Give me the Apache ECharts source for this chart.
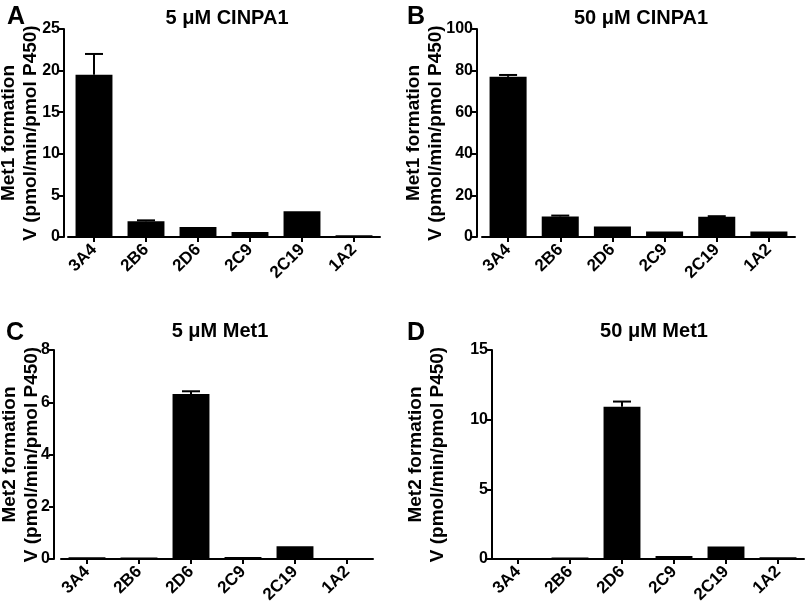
<!DOCTYPE html>
<html>
<head>
<meta charset="utf-8">
<script src="https://cdn.jsdelivr.net/npm/echarts@6/dist/echarts.min.js"></script>
<style>html,body{margin:0;padding:0;background:#fff}#c{width:810px;height:605px}</style>
</head>
<body>
<div id="c"></div>
<script>
const categories = ['3A4', '2B6', '2D6', '2C9', '2C19', '1A2'];

// Panel A: 5 µM CINPA1 (Met1 formation)
const valuesA = [19.5, 1.9, 1.2, 0.6, 3.1, 0.2];
const errorsA = [2.5, 0.1, 0, 0, 0, 0];
// Panel B: 50 µM CINPA1 (Met1 formation)
const valuesB = [77.0, 9.9, 5.0, 2.7, 9.7, 2.7];
const errorsB = [0.9, 0.4, 0, 0, 0.3, 0];
// Panel C: 5 µM Met1 (Met2 formation)
const valuesC = [0.07, 0.06, 6.32, 0.08, 0.49, 0.03];
const errorsC = [0, 0, 0.1, 0, 0, 0];
// Panel D: 50 µM Met1 (Met2 formation)
const valuesD = [0.0, 0.1, 10.93, 0.22, 0.9, 0.12];
const errorsD = [0, 0, 0.37, 0, 0, 0];

const titles = ['5 \u03bcM CINPA1', '50 \u03bcM CINPA1', '5 \u03bcM Met1', '50 \u03bcM Met1'];
const letters = ['A', 'B', 'C', 'D'];
const yNames = [
  'Met1 formation\nV (pmol/min/pmol P450)',
  'Met1 formation\nV (pmol/min/pmol P450)',
  'Met2 formation\nV (pmol/min/pmol P450)',
  'Met2 formation\nV (pmol/min/pmol P450)'
];
const yMax = [25, 100, 8, 15];
const yInterval = [5, 20, 2, 5];

const FONT = '"Liberation Sans", Arial, Helvetica, sans-serif';
const grids = [
  {left: 68, top: 29, width: 312, height: 208},
  {left: 482, top: 29, width: 313, height: 208},
  {left: 61, top: 350, width: 312, height: 209},
  {left: 492, top: 350, width: 312, height: 209}
].map(g => Object.assign({containLabel: false, outerBoundsMode: 'none'}, g));
const yOffsets = [4, 5, 7, 0];
const nameGaps = [22, 30, 11, 43];
const titleTops = [3, 3, 316, 316];
const titleCenters = [222, 636, 215, 649];
const letterPos = [[2, 0], [402, 0], [1, 316], [402, 316]];

const allValues = [valuesA, valuesB, valuesC, valuesD];
const allErrors = [errorsA, errorsB, errorsC, errorsD];

const axisLine = {show: true, lineStyle: {color: '#000', width: 2}};
const axisTick = {show: true, length: 5, lineStyle: {color: '#000', width: 2}};

const option = {
  animation: false,
  backgroundColor: '#fff',
  textStyle: {fontFamily: FONT},
  title: [],
  grid: grids,
  xAxis: [],
  yAxis: [],
  series: []
};

for (let i = 0; i < 4; i++) {
  option.title.push({
    text: titles[i], left: titleCenters[i], top: titleTops[i], textAlign: 'center',
    textStyle: {fontFamily: FONT, fontSize: 20, fontWeight: 'bold', color: '#000'}
  });
  option.title.push({
    text: letters[i], left: letterPos[i][0], top: letterPos[i][1],
    textStyle: {fontFamily: FONT, fontSize: 25, fontWeight: 'bold', color: '#000'}
  });
  option.xAxis.push({
    type: 'category', gridIndex: i, data: categories,
    axisLine: axisLine, axisTick: Object.assign({alignWithLabel: true}, axisTick),
    axisLabel: {rotate: 45, fontFamily: FONT, fontSize: 17, fontWeight: 'bold', color: '#000', margin: 10},
    splitLine: {show: false}
  });
  option.yAxis.push({
    type: 'value', gridIndex: i, min: 0, max: yMax[i], interval: yInterval[i],
    offset: yOffsets[i],
    name: yNames[i], nameLocation: 'middle', nameGap: nameGaps[i], nameRotate: 90,
    nameMoveOverlap: false,
    nameTextStyle: {fontFamily: FONT, fontSize: 19, fontWeight: 'bold', color: '#000', lineHeight: 22},
    axisLine: axisLine, axisTick: axisTick,
    axisLabel: {fontFamily: FONT, fontSize: 16, fontWeight: 'bold', color: '#000', margin: 4},
    splitLine: {show: false}
  });
  option.series.push({
    type: 'bar', xAxisIndex: i, yAxisIndex: i, data: allValues[i],
    barWidth: '71%', itemStyle: {color: '#000'}, z: 2
  });
  const errData = [];
  allValues[i].forEach((v, k) => {
    if (allErrors[i][k] > 0) errData.push([k, v, v + allErrors[i][k]]);
  });
  option.series.push({
    type: 'custom', xAxisIndex: i, yAxisIndex: i, data: errData, z: 3,
    encode: {x: 0, y: [1, 2]},
    renderItem: function (params, api) {
      const base = api.coord([api.value(0), api.value(1)]);
      const top = api.coord([api.value(0), api.value(2)]);
      const half = 9;
      const style = {stroke: '#000', lineWidth: 2, fill: null};
      return {
        type: 'group',
        children: [
          {type: 'line', shape: {x1: base[0], y1: base[1], x2: top[0], y2: top[1]}, style: style},
          {type: 'line', shape: {x1: top[0] - half, y1: top[1], x2: top[0] + half, y2: top[1]}, style: style}
        ]
      };
    }
  });
}

const chart = echarts.init(document.getElementById('c'), null, {renderer: 'canvas'});
chart.setOption(option);
</script>
</body>
</html>
